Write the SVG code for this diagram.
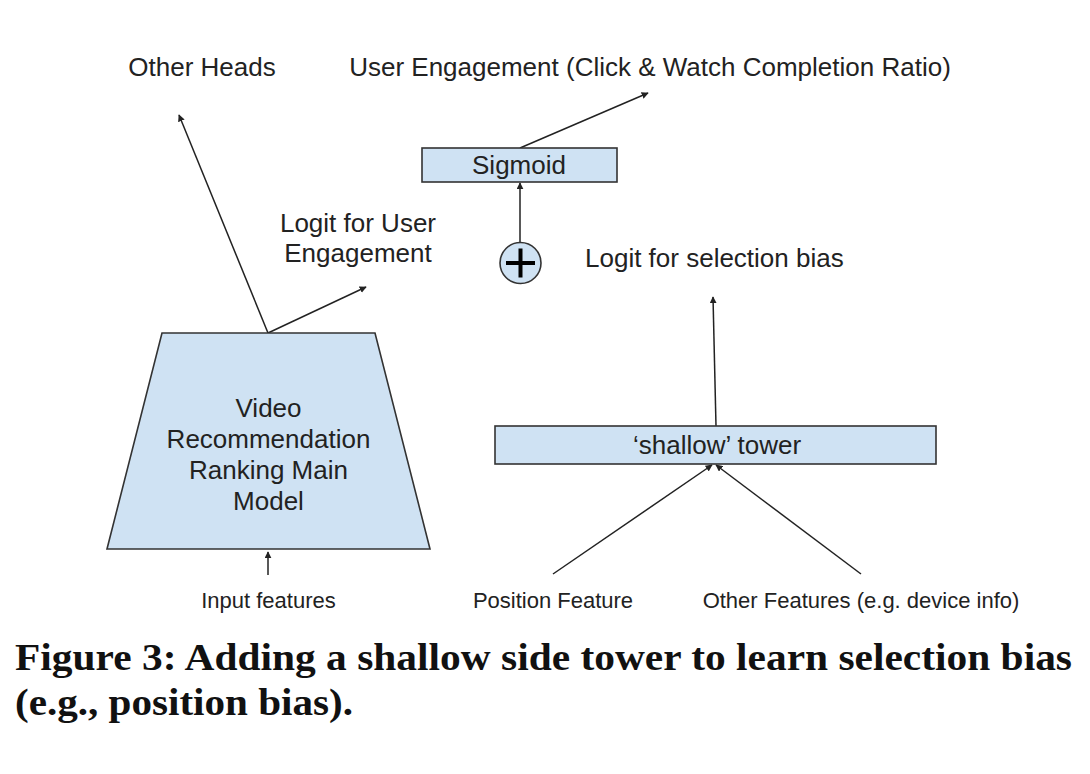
<svg xmlns="http://www.w3.org/2000/svg" width="1090" height="774" viewBox="0 0 1090 774">
<style>
.lbl{font-family:"Liberation Sans",Arial,sans-serif;font-size:26px;fill:#222}
.sm{font-family:"Liberation Sans",Arial,sans-serif;font-size:22px;fill:#222}
.cap{font-family:"Liberation Serif","Times New Roman",serif;font-size:37px;font-weight:bold;fill:#111}
.box{fill:#cfe2f3;stroke:#333;stroke-width:1.6}
.edge{stroke:#222;stroke-width:1.5;fill:none;marker-end:url(#ah)}
</style>
<defs>
<marker id="ah" viewBox="0 0 10 10" refX="9" refY="5" markerWidth="7" markerHeight="7" markerUnits="userSpaceOnUse" orient="auto">
<path d="M0,0 L10,5 L0,10 z" fill="#222"/>
</marker>
</defs>
<rect width="1090" height="774" fill="#fff"/>
<g id="connectors">
<line class="edge" x1="268" y1="333" x2="179" y2="115"/>
<line class="edge" x1="268" y1="333" x2="366" y2="287"/>
<line class="edge" x1="520" y1="148" x2="648" y2="93"/>
<line class="edge" x1="520" y1="242" x2="520" y2="183"/>
<line class="edge" x1="716" y1="426" x2="713" y2="297"/>
<line class="edge" x1="553" y1="574" x2="712" y2="465"/>
<line class="edge" x1="861" y1="574" x2="716" y2="465"/>
<line class="edge" x1="268" y1="575" x2="268" y2="552"/>
</g>
<g id="other-heads"><text class="lbl" x="202" y="76" text-anchor="middle">Other Heads</text></g>
<g id="user-engagement"><text class="lbl" x="650" y="76" text-anchor="middle">User Engagement (Click &amp; Watch Completion Ratio)</text></g>
<g id="sigmoid">
<rect class="box" x="422" y="148" width="195" height="34"/>
<text class="lbl" x="519" y="174" text-anchor="middle">Sigmoid</text>
</g>
<g id="logit-ue">
<text class="lbl" x="358" y="232" text-anchor="middle">Logit for User</text>
<text class="lbl" x="358" y="262" text-anchor="middle">Engagement</text>
</g>
<g id="plus">
<circle cx="520.5" cy="263" r="20.5" fill="#cfe2f3" stroke="#333" stroke-width="1.6"/>
<path d="M506,263 H535 M520.5,248.5 V277.5" stroke="#000" stroke-width="4"/>
</g>
<g id="logit-sb"><text class="lbl" x="585" y="267">Logit for selection bias</text></g>
<g id="main-model">
<polygon class="box" points="162,333 375,333 430,549 107,549"/>
<text class="lbl" x="268.5" y="417" text-anchor="middle">Video</text>
<text class="lbl" x="268.5" y="448" text-anchor="middle">Recommendation</text>
<text class="lbl" x="268.5" y="479" text-anchor="middle">Ranking Main</text>
<text class="lbl" x="268.5" y="510" text-anchor="middle">Model</text>
</g>
<g id="shallow-tower">
<rect class="box" x="495" y="426" width="441" height="38"/>
<text class="lbl" x="717" y="454" text-anchor="middle">‘shallow’ tower</text>
</g>
<g id="input-features"><text class="sm" x="268.5" y="608" text-anchor="middle">Input features</text></g>
<g id="position-feature"><text class="sm" x="553" y="608" text-anchor="middle">Position Feature</text></g>
<g id="other-features"><text class="sm" x="861" y="608" text-anchor="middle">Other Features (e.g. device info)</text></g>
<g id="caption">
<text class="cap" x="15" y="670" textLength="1057" lengthAdjust="spacingAndGlyphs">Figure 3: Adding a shallow side tower to learn selection bias</text>
<text class="cap" x="15" y="715" textLength="338" lengthAdjust="spacingAndGlyphs">(e.g., position bias).</text>
</g>
</svg>
